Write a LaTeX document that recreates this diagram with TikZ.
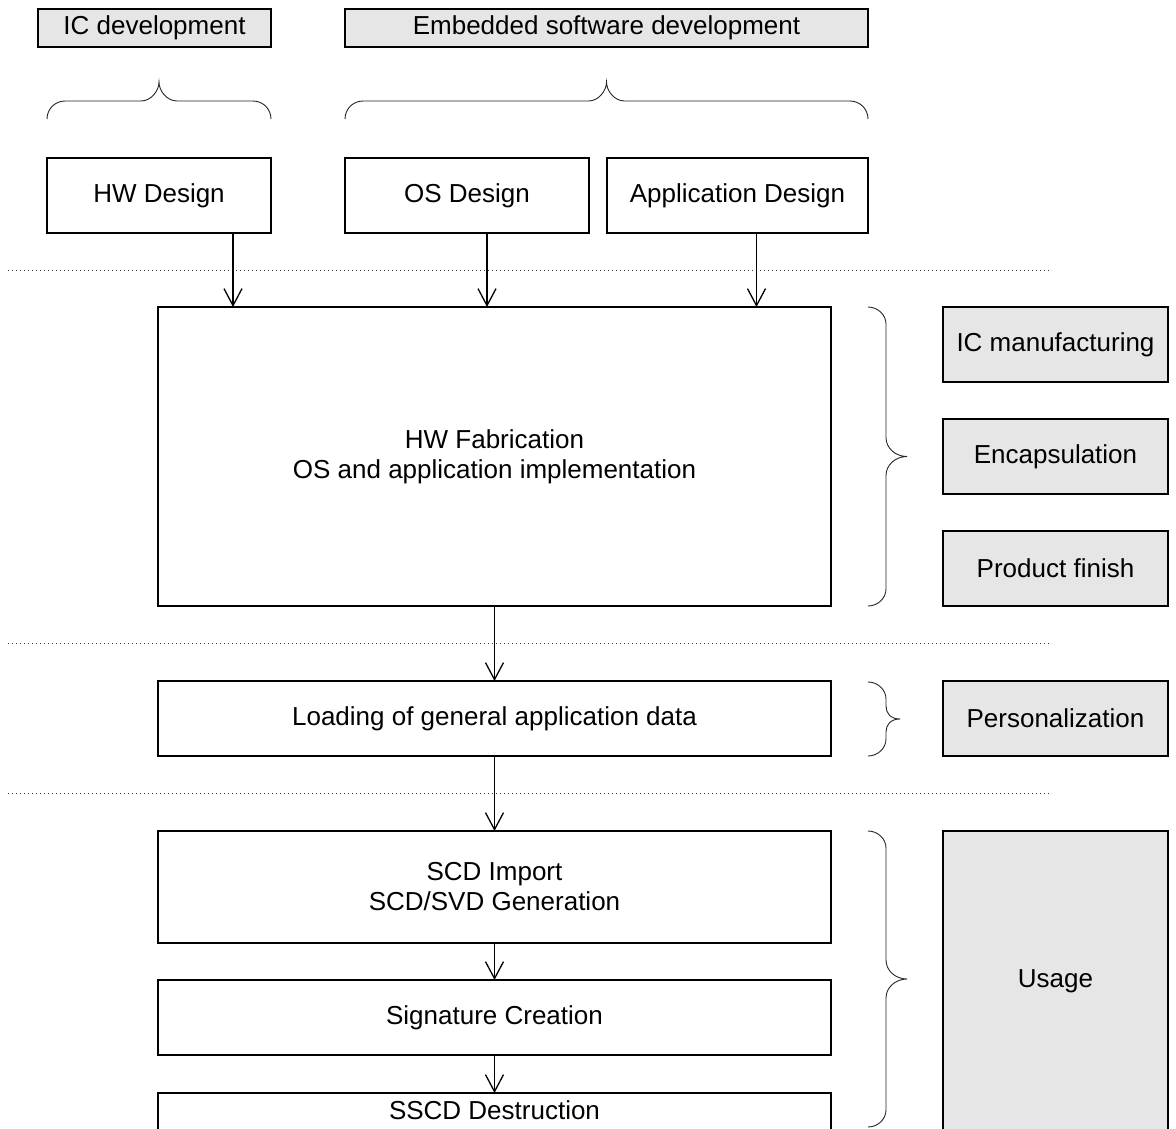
\documentclass[tikz,border=0pt]{standalone}
\usepackage{fontspec}
\setmainfont{Liberation Sans}
\usetikzlibrary{arrows.meta}
\definecolor{boxgrey}{HTML}{E6E6E6}
\newcommand{\rbrc}[5]{% x, ytop, ybot, tip offset, tip curve span : brace opening left, tip to the right
  \pgfmathsetmacro\ym{(#2+#3)/2}
  \draw[brc] (#1,#2) .. controls (#1+10,#2) and (#1+18,#2+8) .. (#1+18,#2+17)
    -- (#1+18,\ym-#5) .. controls (#1+18,\ym-#5*0.45) and (#1+#4*0.7,\ym) .. (#1+#4,\ym)
    .. controls (#1+#4*0.7,\ym) and (#1+18,\ym+#5*0.45) .. (#1+18,\ym+#5)
    -- (#1+18,#3-17) .. controls (#1+18,#3-8) and (#1+10,#3) .. (#1,#3);
}
\newcommand{\tbrc}[3]{% y of ends, xleft, xright : brace opening down, tip up
  \pgfmathsetmacro\xm{(#2+#3)/2}
  \draw[brc] (#2,#1) .. controls (#2,#1-10) and (#2+8,#1-18) .. (#2+18,#1-18)
    -- (\xm-18,#1-18) .. controls (\xm-8,#1-18) and (\xm,#1-28) .. (\xm,#1-37)
    .. controls (\xm,#1-28) and (\xm+8,#1-18) .. (\xm+18,#1-18)
    -- (#3-18,#1-18) .. controls (#3-8,#1-18) and (#3,#1-10) .. (#3,#1);
}
\begin{document}
\begin{tikzpicture}[x=1pt,y=-1pt,
  every node/.style={font=\fontsize{26}{30}\selectfont, inner sep=0pt, outer sep=0pt},
  box/.style={draw, line width=1.9pt, anchor=north west},
  gbox/.style={box, fill=boxgrey},
  conn/.style={line width=1.3pt, -{Straight Barb[length=17pt,width=18pt]}},
  sep/.style={line width=0.9pt, dash pattern=on 1pt off 3pt, black!80},
  brc/.style={line width=0.9pt, black!85}]
\useasboundingbox (0,0) rectangle (1176,1128);
\fill[white] (0,0) rectangle (1176,1128);
\clip (0,0) rectangle (1176,1128);

% top labels
\node[gbox, minimum width=233, minimum height=38] (icdev) at (38,9) {IC development};
\node[gbox, minimum width=523, minimum height=38] (esw) at (345,9) {Embedded software development};
\tbrc{119}{47}{271}
\tbrc{119}{345}{868}

% design boxes
\node[box, minimum width=224, minimum height=75] (hw) at (47,158) {HW Design};
\node[box, minimum width=244, minimum height=75] (os) at (345,158) {OS Design};
\node[box, minimum width=261, minimum height=75] (app) at (607,158) {Application Design};

% separators
\draw[sep] (8,270) -- (1052,270);
\draw[sep] (8,643) -- (1052,643);
\draw[sep] (8,793) -- (1052,793);

% fabrication
\node[box, align=center, minimum width=673, minimum height=299] (fab) at (158,307)
  {HW Fabrication\\OS and application implementation};
\rbrc{868}{307}{606}{39}{19}
\node[gbox, minimum width=225, minimum height=75] (icm) at (943,307) {IC manufacturing};
\node[gbox, minimum width=225, minimum height=75] (enc) at (943,419) {Encapsulation};
\node[gbox, minimum width=225, minimum height=75] (pf) at (943,531) {Product finish};

% personalization
\node[box, minimum width=673, minimum height=75] (load) at (158,681) {Loading of general application data};
\rbrc{868}{682}{756}{32}{13}
\node[gbox, minimum width=225, minimum height=75] (pers) at (943,681) {Personalization};

% usage
\node[box, align=center, minimum width=673, minimum height=112] (scd) at (158,831)
  {SCD Import\\SCD/SVD Generation};
\node[box, minimum width=673, minimum height=75] (sig) at (158,980) {Signature Creation};
\node[box, minimum width=673, text height=19pt, text depth=50pt, inner ysep=7pt] (sscd) at (158,1093) {SSCD Destruction};
\rbrc{868}{831}{1127}{39}{19}
\node[gbox, minimum width=225, minimum height=300] (usage) at (943,831) {Usage};

% connectors
\draw[conn] ([xshift=74pt]hw.south) -- ([xshift=74pt]hw.south |- fab.north);
\draw[conn] ([xshift=20pt]os.south) -- ([xshift=20pt]os.south |- fab.north);
\draw[conn] ([xshift=19pt]app.south) -- ([xshift=19pt]app.south |- fab.north);
\draw[conn] (fab.south) -- (load.north);
\draw[conn] (load.south) -- (scd.north);
\draw[conn] (scd.south) -- (sig.north);
\draw[conn] (sig.south) -- (sscd.north);
\end{tikzpicture}
\end{document}
